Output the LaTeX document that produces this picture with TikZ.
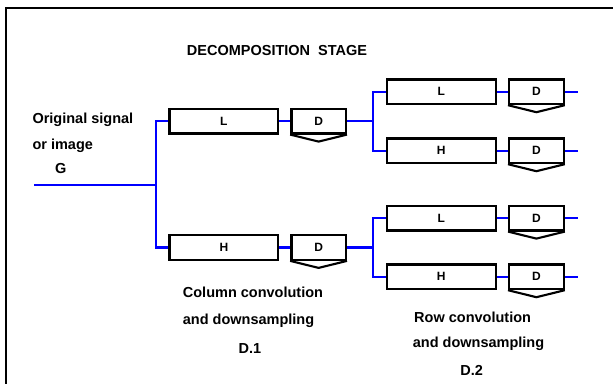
\documentclass[tikz,border=0pt]{standalone}
\usepackage{fontspec}
\setmainfont{Liberation Sans}
\usetikzlibrary{calc}
\definecolor{sigblue}{RGB}{0,0,255}
\tikzset{
  sig/.style={draw=sigblue,line width=2.1pt},
  frame/.style={draw=black,line width=2.4pt},
  filt/.style={draw=black,line width=2.3pt,rectangle,minimum width=108.8pt,minimum height=24.5pt,inner sep=0pt,font=\fontsize{12}{14}\selectfont\bfseries},
  dbox/.style={draw=black,line width=2.3pt,rectangle,minimum width=54.5pt,minimum height=24.5pt,inner sep=0pt,font=\fontsize{12}{14}\selectfont\bfseries},
  vee/.style={draw=black,line width=2.1pt,line join=miter},
  lab/.style={inner sep=0pt,font=\fontsize{14.5}{17}\selectfont\bfseries}
}
\begin{document}
\begin{tikzpicture}[x=1pt,y=-1pt]
\useasboundingbox (0,0) rectangle (613,383);
% frame
\draw[frame] (6.2,390) -- (6.2,7.8) -- (620,7.8);
% title
\node[lab,anchor=base] (title) at (277,55) {DECOMPOSITION\ \ STAGE};
% input labels
\node[lab,anchor=base west] (orig) at (32.3,123.5) {Original signal};
\node[lab,anchor=base west] (orimg) at (32.3,149.5) {or image};
\node[lab,anchor=base] (G) at (60.7,173) {G};
% stage 1
\node[filt] (L1) at (223.9,121.2) {L};
\node[filt] (H1) at (223.9,247.5) {H};
\node[dbox] (D1) at (318.6,121.2) {D};
\node[dbox] (D2) at (318.6,247.5) {D};
% stage 2
\node[filt] (L21) at (441.3,91.8) {L};
\node[filt] (H21) at (441.3,150.8) {H};
\node[filt] (L22) at (441.3,218.2) {L};
\node[filt] (H22) at (441.3,276.8) {H};
\node[dbox] (D21) at (536.4,91.8) {D};
\node[dbox] (D22) at (536.4,150.8) {D};
\node[dbox] (D23) at (536.4,218.2) {D};
\node[dbox] (D24) at (536.4,276.8) {D};
% downsampling chevrons
\foreach \n in {D1,D2,D21,D22,D23,D24}{
  \draw[vee] (\n.south west) -- ($(\n.south)+(0,7)$) -- (\n.south east);
}
% connectors
\coordinate (in) at (34,184.7);
\coordinate (j1) at (155.7,184.7);
\coordinate (j2) at (373.3,121.2);
\coordinate (j3) at (373.3,247.5);
\draw[sig] (in) -- (j1);
\draw[sig] (L1.west) -| (j1) |- (H1.west);
\draw[sig] (L1.east) -- (D1.west);
\draw[sig] (H1.east) -- (D2.west);
\draw[sig] (D1.east) -- (j2);
\draw[sig] (D2.east) -- (j3);
\draw[sig] (L21.west) -| (j2) |- (H21.west);
\draw[sig] (L22.west) -| (j3) |- (H22.west);
\foreach \a/\b in {L21/D21,H21/D22,L22/D23,H22/D24}{
  \draw[sig] (\a.east) -- (\b.west);
}
\foreach \n in {D21,D22,D23,D24}{
  \coordinate (\n o) at ($(\n.east)+(12.7,0)$);
  \draw[sig] (\n.east) -- (\n o);
}
% bottom labels
\node[lab,anchor=base west] (cc) at (182.7,297.3) {Column convolution};
\node[lab,anchor=base west] (cd) at (182.7,324) {and downsampling};
\node[lab,anchor=base] (d1) at (250,353.3) {D.1};
\node[lab,anchor=base west] (rc) at (414,322.7) {Row convolution};
\node[lab,anchor=base west] (rd) at (412.7,347.3) {and downsampling};
\node[lab,anchor=base] (d2) at (471.7,375) {D.2};
\end{tikzpicture}
\end{document}
